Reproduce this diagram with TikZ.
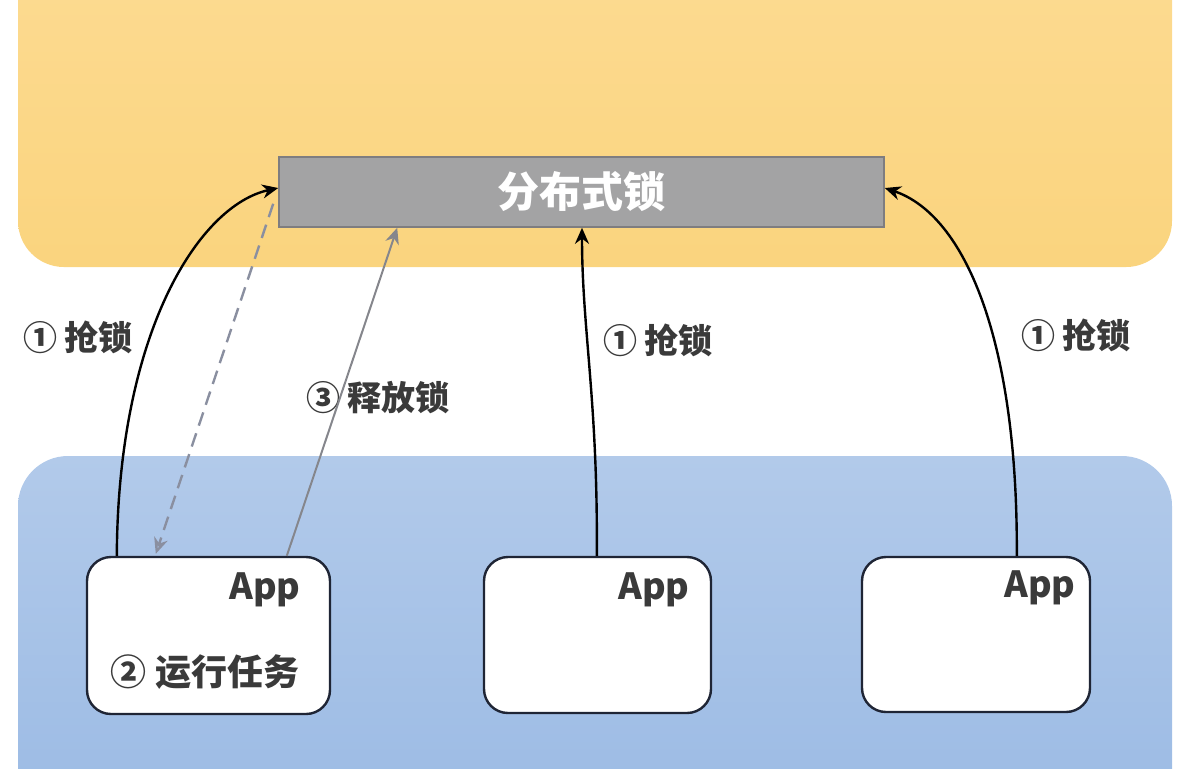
\documentclass[tikz,border=0pt]{standalone}
\usepackage{fontspec}
\setmainfont{Noto Sans CJK SC}
\usetikzlibrary{calc,arrows.meta}
\definecolor{txt}{HTML}{3A3A3A}
\definecolor{boxline}{HTML}{1F2535}
\definecolor{grayarrow}{HTML}{85868C}
\definecolor{dasharrow}{HTML}{8A8FA0}
\definecolor{lockfill}{HTML}{A3A3A4}
\definecolor{lockline}{HTML}{7E7D80}
\definecolor{ytop}{HTML}{FDDC95}
\definecolor{ybot}{HTML}{FAD47E}
\definecolor{btop}{HTML}{B2CAEA}
\definecolor{bbot}{HTML}{96B7E3}
\begin{document}
\begin{tikzpicture}[x=0.5pt,y=-0.5pt,
  lbl/.style={text=txt, font=\fontsize{17pt}{20pt}\selectfont\bfseries, inner sep=0pt},
  apptext/.style={text=txt, font=\fontsize{18pt}{21pt}\selectfont\bfseries, inner sep=0pt},
  appbox/.style={draw=boxline, line width=1.2pt, fill=white, rounded corners=12pt, inner sep=0pt},
  grab/.style={-{Stealth[length=8pt,width=7pt]}, line width=1.2pt, draw=black},
  graylink/.style={-{Stealth[length=8pt,width=7pt]}, line width=1pt, draw=grayarrow},
  dashlink/.style={-{Stealth[length=8pt,width=7pt,open]}, line width=1.2pt, draw=dasharrow, dash pattern=on 7pt off 4pt}]
\useasboundingbox (0,0) rectangle (1184,768);
\begin{scope}
  \clip (0,0) rectangle (1184,768);
  \shade[top color=ytop, bottom color=ybot, rounded corners=23pt] (18,-100) rectangle (1172,267);
  \shade[top color=btop, bottom color=bbot, rounded corners=25pt] (18,456) rectangle (1172,900);
\end{scope}
\node[draw=lockline, line width=0.8pt, fill=lockfill, minimum width=302.5pt, minimum height=35pt, inner sep=0pt, text=white, font=\fontsize{21pt}{24pt}\selectfont\bfseries] (lock) at (581.5,192) {分布式锁};
\node[appbox, minimum width=121.5pt, minimum height=78.5pt] (app1) at (208.5,635.5) {};
\node[appbox, minimum width=113.5pt, minimum height=78pt] (app2) at (597.5,635) {};
\node[appbox, minimum width=114pt, minimum height=77.5pt] (app3) at (976,634.5) {};
\node[apptext] (t1) at (265,590) {App};
\node[apptext] (t2) at (654,590) {App};
\node[apptext] (t3) at (1040,588) {App};
\node[apptext] (run) at (205,672) {② 运行任务};
\node[lbl] (l1) at (78,337) {① 抢锁};
\node[lbl] (l3) at (378,398) {③ 释放锁};
\node[lbl] (l2) at (658,340) {① 抢锁};
\node[lbl] (l4) at (1076,335) {① 抢锁};
\draw[grab] ($(app1.north west)+(31,0)$) .. controls (118,330) and (200,205) .. ($(lock.west)+(0,-4)$);
\draw[dashlink] ($(lock.south west)+(-5,-24)$) -- ($(app1.north west)+(70,-2)$);
\draw[graylink] ($(app1.north west)+(201,0)$) -- ($(lock.south west)+(119,0)$);
\draw[grab] ($(app2.north west)+(114,0)$) .. controls (598,400) and (582,330) .. ($(lock.south)+(0.5,0)$);
\draw[grab] ($(app3.north west)+(156,0)$) .. controls (1018,340) and (965,215) .. ($(lock.east)+(0,-4)$);
\end{tikzpicture}
\end{document}
